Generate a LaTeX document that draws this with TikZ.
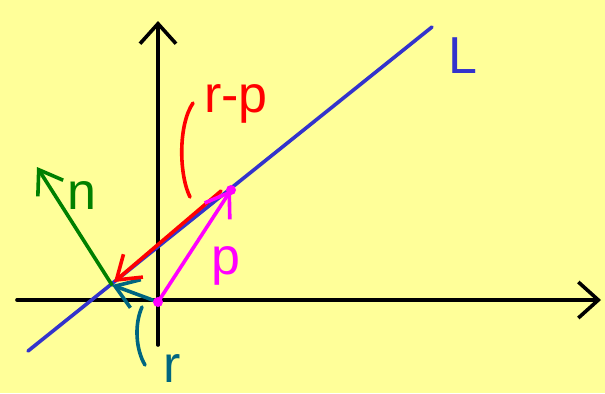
\documentclass[tikz,border=0pt]{standalone}
\usepackage{fontspec}
\setmainfont{Liberation Sans}
\usetikzlibrary{arrows.meta}
\definecolor{padyellow}{RGB}{255,255,153}
\definecolor{lineblue}{RGB}{51,51,204}
\definecolor{normgreen}{RGB}{0,128,0}
\definecolor{rteal}{RGB}{0,102,128}
\definecolor{pmagenta}{RGB}{255,0,255}
\definecolor{rpred}{RGB}{255,0,0}
\begin{document}
\begin{tikzpicture}[x=0.5pt, y=-0.5pt,
    >={Straight Barb[length=11pt, width=15pt, line width=1.8pt]},
    pen/.style ={line width=1.8pt, line cap=round, line join=round},
    vec/.style ={pen, ->},
    axis/.style={pen, black, -{Straight Barb[length=10pt, width=18pt, line width=1.8pt]}},
    lbl/.style ={font=\fontsize{26pt}{28pt}\selectfont, inner sep=0pt},
]
% paper
\fill[padyellow] (0,0) rectangle (605,393);
\useasboundingbox (0,0) rectangle (605,393);
% points
\coordinate (xl) at (17,300);
\coordinate (xr) at (601,300);
\coordinate (yb) at (158,345);
\coordinate (yt) at (158,21);
\coordinate (L0) at (28,351);
\coordinate (L1) at (432,27);
\coordinate (O) at (158,302);
\coordinate (P) at (231,190);
\coordinate (F) at (112,285);
\coordinate (nt) at (37,167);
\coordinate (rp0) at (221,191);
\coordinate (rp1) at (114,282);
% axes
\draw[axis] (xl) -- (xr);
\draw[axis] (yb) -- (yt);
% the line L
\draw[pen, lineblue] (L0) -- (L1);
\node[lbl, text=lineblue] (Llbl) at (463,56) {L};
% vectors
\draw[vec, normgreen] (F) -- (nt);
\node[lbl, text=normgreen] (nlbl) at (82,195) {n};
\draw[vec, rteal] (O) -- (F);
\draw[vec, rpred] (rp0) -- (rp1);
\draw[vec, pmagenta] (O) -- (P);
\fill[pmagenta] (O) circle (5) (P) circle (5);
\node[lbl, text=pmagenta] (plbl) at (226,266) {p};
% brackets and labels
\draw[pen, rpred] (193,103) .. controls (178,125) and (179,175) .. (190,197);
\node[lbl, text=rpred] (rplbl) at (236,104) {r-p};
\draw[pen, rteal] (142,307) .. controls (134,325) and (136,350) .. (145,365);
\node[lbl, text=rteal] (rlbl) at (172,368) {r};
\end{tikzpicture}
\end{document}
